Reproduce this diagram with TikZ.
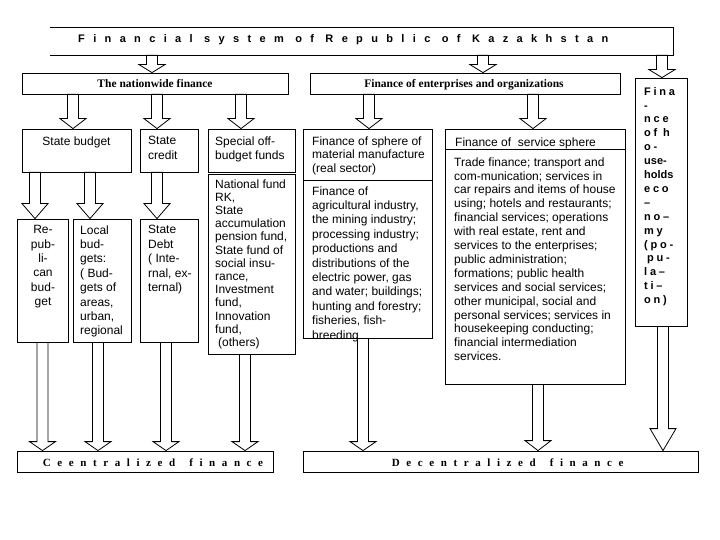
\documentclass[tikz,border=0pt]{standalone}
\usepackage{fontspec}
\setmainfont{Liberation Serif}
\setsansfont{Liberation Sans}
\newfontfamily\spsans[LetterSpace=76]{Liberation Sans}
\newfontfamily\spserif[LetterSpace=60]{Liberation Serif}
\newfontfamily\hhsans[LetterSpace=25]{Liberation Sans}
\usetikzlibrary{calc,fit}

\newcommand{\fatarrow}[4][10]{% #1 head length, #4 x offset of the arrow
  \draw[fat] let \p1=(#2), \p2=($(#3)+(#4,0)$) in
    (\x2-5.5pt,\y1) -- (\x2-5.5pt,\y2+#1pt) -- (\x2-13pt,\y2+#1pt) -- (\x2,\y2)
    -- (\x2+13pt,\y2+#1pt) -- (\x2+5.5pt,\y2+#1pt) -- (\x2+5.5pt,\y1) -- cycle;
}

\begin{document}
\begin{tikzpicture}[x=1pt, y=-1pt,
    box/.style = {draw, line width=0.8pt, inner sep=0pt, fit={#1}},
    fat/.style = {draw, fill=white, line width=0.8pt, line join=miter},
    txt/.style = {font=\sffamily\fontsize{12}{#1}\selectfont, align=left,
                  inner sep=0pt, anchor=north west},
    txt/.default = 14.4,
    head/.style = {font=\bfseries\fontsize{11.5}{13}\selectfont, inner sep=0pt},
    wide/.style = {font=\spserif\bfseries\fontsize{11}{13}\selectfont,
                   inner sep=0pt, anchor=west}
                    ]
        \useasboundingbox (0,0) rectangle (720,540);
        % boxes
        \node[box={(50,28)(673,55)}, draw=none] (title) {};
        \draw[line width=0.8pt] (title.north west) -- (title.north east)
            -- (title.south east) -- (title.south west);
        \foreach \n/\xa/\ya/\xb/\yb in {nation/22/73/288/94, enter/310/73/620/94,
            house/635/78/687/326, sbud/22/129/131/172,
            scred/140/129/198/172, spec/208/129/295/172, funds/208/174/295/354,
            rep/17/219/68/342, local/73/219/131/342, debt/140/219/198/342,
            mhead/303/129/432/180, mat/303/180/432/338, shead/445/129/625/149,
            serv/445/149/625/384, cent/17/451/273/472, decent/303/451/698/472}
            \node[box={(\xa,\ya)(\xb,\yb)}] (\n) {};
        % texts
        \node[font=\spsans\bfseries\fontsize{11}{13}\selectfont, anchor=base west,
              inner sep=0pt] (title-t) at (78,42.7) {Financial system of Republic of Kazakhstan};
        \node[head, anchor=base] (nation-t) at (155,87.5) {The nationwide finance};
        \node[head, anchor=base] (enter-t) at (464,87.5) {Finance of enterprises and organizations};
        \node[txt, anchor=north] (sbud-t) at (76.5,136.3) {State budget};
        \node[txt] (scred-t) at (148,136.3) {State\\credit};
        \node[txt=14] (spec-t) at (215,136.3) {Special off-\\budget funds};
        \node[txt=13.2] (funds-t) at (215,179.3) {National fund\\RK,\\State\\accumulation\\pension fund,\\State fund of\\social insu-\\rance,\\Investment\\fund,\\Innovation\\fund,\\\hspace*{3pt}(others)};
        \node[txt, align=center, anchor=north] (rep-t) at (43,225.3) {Re-\\pub-\\li-\\can\\bud-\\get};
        \node[txt] (local-t) at (80,225.3) {Local\\bud-\\gets:\\( Bud-\\gets of\\areas,\\urban,\\regional};
        \node[txt] (debt-t) at (148,225.3) {State\\Debt\\( Inte-\\rnal, ex-\\ternal)};
        \node[txt=13.8] (mhead-t) at (312,136.3) {Finance of sphere of\\material manufacture\\(real sector)};
        \node[txt] (mat-t) at (312,186.3) {Finance of\\agricultural industry,\\the mining industry;\\processing industry;\\productions and\\distributions of the\\electric power, gas\\and water; buildings;\\hunting and forestry;\\fisheries, fish-\\breeding};
        \node[txt] (shead-t) at (455,137.3) {Finance of\ \ service sphere};
        \node[txt=13.9] (serv-t) at (454,157.3) {Trade finance; transport and\\com-munication; services in\\car repairs and items of house\\using; hotels and restaurants;\\financial services; operations\\with real estate, rent and\\services to the enterprises;\\public administration;\\formations; public health\\services and social services;\\other municipal, social and\\personal services; services in\\housekeeping conducting;\\financial intermediation\\services.};
        \node[font=\hhsans\bfseries\fontsize{11}{13.9}\selectfont, align=left, inner sep=0pt,
              anchor=north west] (house-t) at (644,87) {Fina\\-\\nce\\of h\\o-\\{\sffamily use-}\\{\sffamily holds}\\eco\\–\\no–\\my\\(po-\\\hspace*{3pt}pu-\\la–\\ti–\\on)};
        \node[wide] (cent-t) at ([xshift=26pt,yshift=-1pt]cent.west) {Ceentralized\hspace{14pt}finance};
        \node[wide] (decent-t) at ([xshift=89pt,yshift=-1pt]decent.west) {Decentralized\hspace{14pt}finance};
        % arrows
        \foreach \src/\dst/\dx/\hl in {title/nation/-3/8, title/enter/18/8, title/house/1/8,
            nation/sbud/-3.5/10, nation/scred/-12/10, nation/spec/-10.5/10,
            enter/mhead/1.5/10, enter/shead/-2/10,
            sbud/rep/-7.5/15, sbud/local/-12/15, scred/debt/-12/15}
            \fatarrow[\hl]{\src.south}{\dst.north}{\dx};
        \foreach \src/\dst/\dx/\hl in {rep/cent/0/9, local/cent/-4/9, debt/cent/-3/9,
            funds/cent/-6.5/9, mat/decent/-4.5/9, serv/decent/3/10, house/decent/2/22}
            \fatarrow[\hl]{\src.south}{\src.south |- \dst.north}{\dx};
    \end{tikzpicture}
\end{document}
